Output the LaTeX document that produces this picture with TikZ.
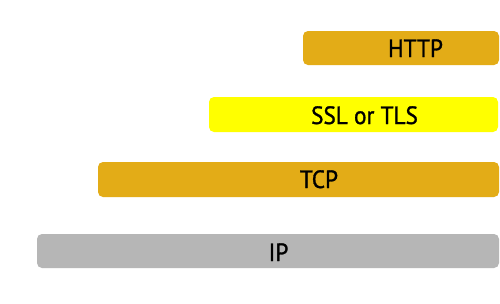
\documentclass[tikz,border=0pt]{standalone}
\usepackage{fontspec}
\setmainfont{PT Sans}
\newfontfamily\layerfont{PT Sans}[FakeStretch=0.93, FakeBold=1.2]
\definecolor{layerorange}{HTML}{E3AC17}
\definecolor{layeryellow}{HTML}{FFFF00}
\definecolor{layergray}{HTML}{B6B6B6}
\tikzset{
  layer/.style={rounded corners=5pt, draw=none},
  layerlabel/.style={anchor=base, inner sep=0pt, font=\layerfont\fontsize{25}{30}\selectfont, text=black}
}
\begin{document}
\begin{tikzpicture}[x=1pt,y=-1pt]
  \useasboundingbox[fill=white] (0,0) rectangle (500,303);
  % protocol stack layers, top to bottom
  \fill[layer, layerorange] (303,31) rectangle (499,65);
  \fill[layer, layeryellow] (209,97) rectangle (498,132);
  \fill[layer, layerorange] (98,162) rectangle (499,197);
  \fill[layer, layergray] (37,234) rectangle (499,268);
  % layer names
  \node[layerlabel] (http) at (415.5,57) {HTTP};
  \node[layerlabel] (ssl) at (364.5,124) {SSL or TLS};
  \node[layerlabel] (tcp) at (319,188) {TCP};
  \node[layerlabel] (ip) at (278.5,261) {IP};
\end{tikzpicture}
\end{document}
